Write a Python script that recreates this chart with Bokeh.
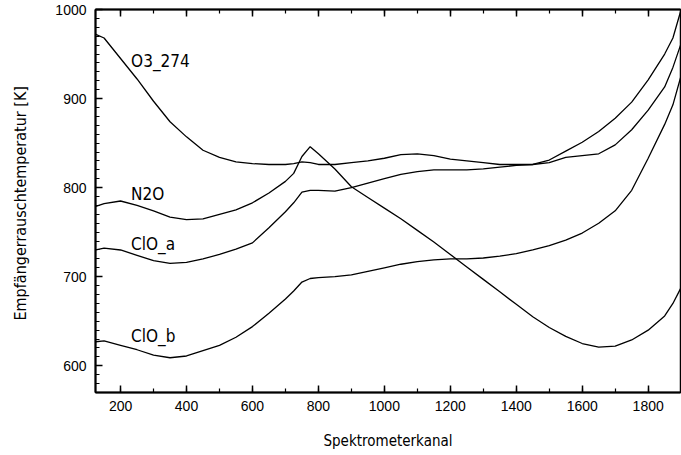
from bokeh.plotting import figure
from bokeh.models import LinearAxis, SingleIntervalTicker, Range1d
from bokeh.core.properties import value
from bokeh.embed import file_html
from bokeh.resources import INLINE

channels = [125, 150, 200, 250, 300, 350, 400, 450, 500, 550,
            600, 650, 700, 725, 750, 775, 800, 850, 900, 950,
            1000, 1050, 1100, 1150, 1200, 1250, 1300, 1350, 1400, 1450,
            1500, 1550, 1600, 1650, 1700, 1750, 1800, 1850, 1875, 1900]

o3_274 = [972, 968, 945, 922, 897, 874, 857, 842, 834, 829,
          827, 826, 826, 827, 829, 828, 826, 826, 828, 830,
          833, 837, 838, 836, 832, 830, 828, 826, 826, 826,
          831, 841, 851, 863, 878, 896, 921, 950, 968, 1000]
n2o = [779, 782, 785, 780, 774, 767, 764, 765, 770, 775,
       783, 794, 807, 816, 835, 846, 838, 821, 801, 789,
       777, 765, 752, 739, 725, 711, 697, 683, 669, 655,
       643, 633, 625, 621, 622, 629, 640, 656, 670, 688]
clo_a = [730, 732, 730, 724, 718, 715, 716, 720, 725, 731,
         738, 755, 773, 783, 795, 797, 797, 796, 800, 805,
         810, 815, 818, 820, 820, 820, 821, 823, 825, 826,
         828, 834, 836, 838, 848, 865, 887, 913, 935, 962]
clo_b = [627, 628, 623, 618, 612, 609, 611, 617, 623, 632,
         644, 659, 675, 684, 694, 698, 699, 700, 702, 706,
         710, 714, 717, 719, 720, 720, 721, 723, 726, 730,
         735, 741, 749, 760, 774, 797, 833, 871, 893, 926]

label_names = ["O3_274", "N2O", "ClO_a", "ClO_b"]
label_x = [232, 232, 232, 232]
label_y = [942, 793, 737, 633]

x_title = "Spektrometerkanal"
y_title = "Empfängerrauschtemperatur  [K]"

NARROW = "DejaVu Sans Condensed"
SANS = "Liberation Sans"

p = figure(width=681, height=455, output_backend="svg", toolbar_location=None,
           x_range=Range1d(124, 1898), y_range=Range1d(570, 1000),
           min_border_left=95, min_border_right=1, min_border_top=9, min_border_bottom=63,
           x_axis_location=None, y_axis_location=None)
p.grid.visible = False
p.outline_line_color = "black"
p.outline_line_width = 1.5
p.background_fill_color = "white"
p.border_fill_color = "white"

def style(ax, labels=True):
    ax.axis_line_color = "black"
    ax.axis_line_width = 2
    ax.major_tick_in = 7
    ax.major_tick_out = 0
    ax.minor_tick_in = 4
    ax.minor_tick_out = 0
    ax.major_tick_line_width = 1.5
    ax.minor_tick_line_width = 1.2
    ax.major_tick_line_color = "black"
    ax.minor_tick_line_color = "black"
    ax.major_label_text_font = SANS
    ax.major_label_text_font_size = "14px"
    ax.major_label_text_color = "black"
    ax.axis_label_text_color = "black"
    if not labels:
        ax.major_label_text_alpha = 0
        ax.major_label_text_font_size = "1px"

xb = LinearAxis(ticker=SingleIntervalTicker(interval=200, num_minor_ticks=2))
style(xb)
xb.major_label_standoff = 8
xb.axis_label = x_title
xb.axis_label_text_font = NARROW
xb.axis_label_text_font_size = "15px"
xb.axis_label_text_font_style = "normal"
xb.axis_label_standoff = 18
p.add_layout(xb, "below")

xt = LinearAxis(ticker=SingleIntervalTicker(interval=200, num_minor_ticks=2))
style(xt, labels=False)
p.add_layout(xt, "above")

yl = LinearAxis(ticker=SingleIntervalTicker(interval=100, num_minor_ticks=10))
style(yl)
yl.major_label_standoff = 9
yl.axis_label = y_title
yl.axis_label_text_font = NARROW
yl.axis_label_text_font_size = "16px"
yl.axis_label_text_font_style = "normal"
yl.axis_label_standoff = 22
p.add_layout(yl, "left")

for ys in (o3_274, n2o, clo_a, clo_b):
    p.line(channels, ys, line_color="black", line_width=1.3)

p.text(x=label_x, y=label_y, text=label_names, text_font=value(NARROW),
       text_font_size="17px", text_baseline="middle", text_align="left", text_color="black")

open("out.html", "w").write(file_html(p, INLINE))
